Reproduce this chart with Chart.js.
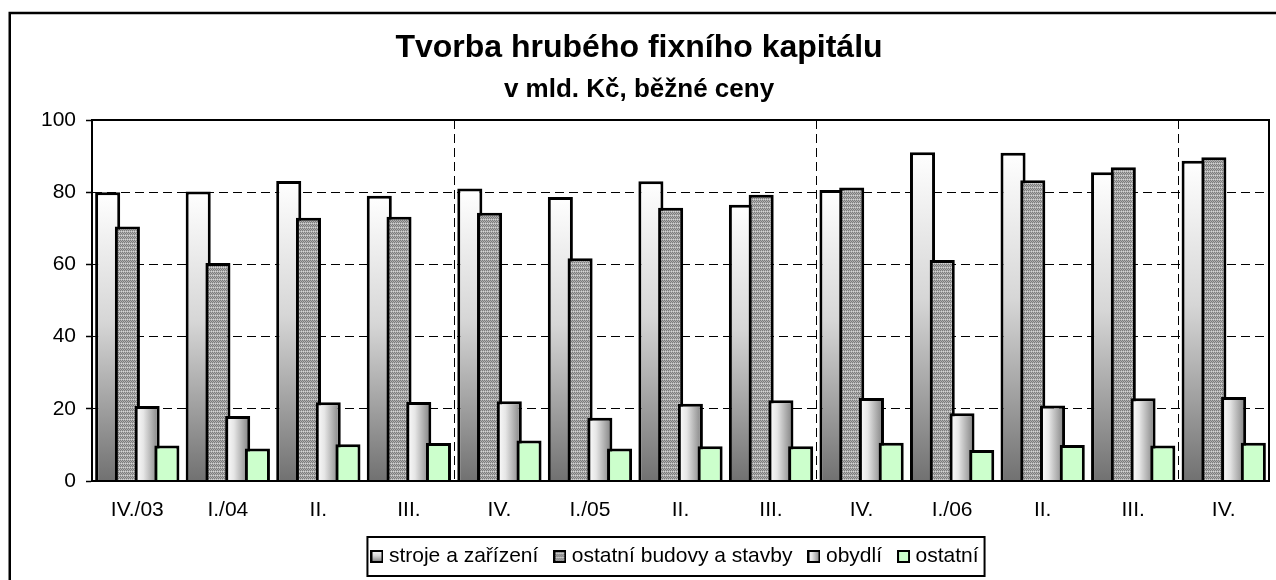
<!DOCTYPE html>
<html>
<head>
<meta charset="utf-8">
<script src="https://cdn.jsdelivr.net/npm/chart.js@4.4.0/dist/chart.umd.min.js"></script>
<style>
  html, body { margin: 0; padding: 0; background: #fff; }
  #wrap { width: 1276px; height: 580px; position: relative; }
</style>
</head>
<body>
<div id="wrap"><canvas id="c" width="1276" height="580"></canvas></div>
<script>
// ---- data ----
const categories = ['IV./03', 'I./04', 'II.', 'III.', 'IV.', 'I./05', 'II.', 'III.', 'IV.', 'I./06', 'II.', 'III.', 'IV.'];
const seriesNames = ['stroje a zařízení', 'ostatní budovy a stavby', 'obydlí', 'ostatní'];
const stroje  = [80.0, 80.2, 83.1, 79.0, 81.0, 78.7, 83.0, 76.5, 80.6, 91.1, 90.9, 85.5, 88.7];
const budovy  = [70.5, 60.4, 72.9, 73.2, 74.3, 61.7, 75.7, 79.3, 81.3, 61.2, 83.3, 86.9, 89.7];
const obydli  = [20.8, 18.0, 21.8, 21.9, 22.1, 17.5, 21.4, 22.4, 23.0, 18.8, 20.9, 22.9, 23.3];
const ostatni = [9.8, 9.0, 10.2, 10.5, 11.2, 9.0, 9.6, 9.6, 10.6, 8.6, 10.0, 9.8, 10.6];
const yTicks  = [0, 20, 40, 60, 80, 100];
const titleText = 'Tvorba hrubého fixního kapitálu';
const subtitleText = 'v mld. Kč, běžné ceny';

// ---- style ----
const FONT = '"Liberation Sans", Arial, sans-serif';
const CAT_PCT = 0.872;
const BAR_PCT = 1.27;
const PSW = 3;            // legend point-style width
const LEGEND_SHIFT = 38;  // legend sits right of centre in the original

function makeLocalPattern(g) {
  const p = document.createElement('canvas');
  p.width = 4; p.height = 4;
  const q = p.getContext('2d');
  q.fillStyle = '#b0b0b0'; q.fillRect(0, 0, 4, 4);
  q.fillStyle = '#7c7c7c';
  [[0,0],[2,0],[1,1],[3,1],[0,2],[2,2]].forEach(([x,y]) => q.fillRect(x, y, 1, 1));
  q.fillStyle = '#d4d4d4';
  [[1,3],[3,3]].forEach(([x,y]) => q.fillRect(x, y, 1, 1));
  return g.createPattern(p, 'repeat');
}

function barBox(ctx, k) {
  if (!ctx || ctx.type !== 'data') return null;
  const chart = ctx.chart, xs = chart.scales.x, ys = chart.scales.y;
  if (!xs || !ys || !chart.chartArea) return null;
  const i = ctx.dataIndex;
  const c = xs.getPixelForValue(i);
  const w = Math.abs(xs.getPixelForValue(1) - xs.getPixelForValue(0));
  if (!isFinite(c) || !isFinite(w) || w === 0) return null;
  const size = w * CAT_PCT, chunk = size / 4;
  const center = c - size / 2 + chunk * (k + 0.5);
  const bw = chunk * BAR_PCT;
  return { left: center - bw / 2, right: center + bw / 2,
           top: ys.getPixelForValue(ctx.raw), bottom: ys.getPixelForValue(0) };
}

function vGrad(g, top, bottom) {
  const gr = g.createLinearGradient(0, top, 0, bottom);
  gr.addColorStop(0, '#ffffff');
  gr.addColorStop(0.45, '#d6d6d6');
  gr.addColorStop(1, '#717171');
  return gr;
}
function hGrad(g, left, right) {
  const gr = g.createLinearGradient(left, 0, right, 0);
  gr.addColorStop(0, '#ffffff');
  gr.addColorStop(0.35, '#e6e6e6');
  gr.addColorStop(1, '#7c7c7c');
  return gr;
}

function swatch(painter) {
  const s = document.createElement('canvas');
  s.width = 13; s.height = 13;
  const g = s.getContext('2d');
  g.fillStyle = painter(g); g.fillRect(0, 0, 13, 13);
  g.strokeStyle = '#000'; g.lineWidth = 2; g.strokeRect(1, 1, 11, 11);
  return s;
}
const swatches = [
  swatch(g => vGrad(g, 0, 13)),
  swatch(g => makeLocalPattern(g)),
  swatch(g => hGrad(g, 0, 13)),
  swatch(g => '#ccffcc')
];

const framePlugin = {
  id: 'framePlugin',
  afterLayout(chart) {
    if (chart.legend) {
      chart.legend.left += LEGEND_SHIFT;
      chart.legend.right += LEGEND_SHIFT;
    }
  },
  beforeDraw(chart) {
    const c = chart.ctx;
    c.save();
    c.fillStyle = '#fff';
    c.fillRect(0, 0, chart.width, chart.height);
    c.strokeStyle = '#000';
    c.lineWidth = 2.5;
    c.beginPath();
    c.moveTo(9.75, chart.height + 10);
    c.lineTo(9.75, 13);
    c.lineTo(chart.width + 10, 13);
    c.stroke();
    c.restore();
  },
  beforeDatasetsDraw(chart) {
    // later series drawn on top of earlier ones
    chart.getSortedVisibleDatasetMetas().forEach(m => m.controller.draw());
    const a = chart.chartArea, c = chart.ctx;
    c.save();
    c.strokeStyle = '#000';
    c.lineWidth = 2;
    c.strokeRect(a.left, a.top, a.right - a.left, a.bottom - a.top);
    c.restore();
    return false;
  },
  afterDraw(chart) {
    const L = chart.legend;
    if (!L || !L.legendHitBoxes || !L.legendHitBoxes.length) return;
    const hb = L.legendHitBoxes;
    const first = hb[0], last = hb[hb.length - 1];
    const left = first.left + PSW / 2 - 6.5 - 3;
    const right = last.left + last.width + 6;
    const cy = first.top + first.height / 2;
    const c = chart.ctx;
    c.save();
    c.strokeStyle = '#000';
    c.lineWidth = 2;
    c.strokeRect(left, cy - 19.5, right - left, 39);
    c.restore();
  }
};

const datasets = [
  { label: seriesNames[0], data: stroje,
    backgroundColor: ctx => { const b = barBox(ctx, 0); return b ? vGrad(ctx.chart.ctx, b.top, b.bottom) : '#cccccc'; } },
  { label: seriesNames[1], data: budovy,
    backgroundColor: ctx => makeLocalPattern(ctx.chart.ctx) },
  { label: seriesNames[2], data: obydli,
    backgroundColor: ctx => { const b = barBox(ctx, 2); return b ? hGrad(ctx.chart.ctx, b.left, b.right) : '#cccccc'; } },
  { label: seriesNames[3], data: ostatni, backgroundColor: '#ccffcc' }
].map(d => Object.assign(d, {
  borderColor: '#000', borderWidth: 3,
  categoryPercentage: CAT_PCT, barPercentage: BAR_PCT
}));

new Chart(document.getElementById('c'), {
  type: 'bar',
  data: { labels: categories, datasets },
  plugins: [framePlugin],
  options: {
    responsive: false,
    animation: false,
    devicePixelRatio: 1,
    events: [],
    layout: { padding: { left: 9, right: 7, top: 0, bottom: 3 } },
    plugins: {
      tooltip: { enabled: false },
      title: {
        display: true, text: titleText, color: '#000',
        font: { family: FONT, size: 32, weight: 'bold', lineHeight: 1.2 },
        padding: { top: 29, bottom: 2 }
      },
      subtitle: {
        display: true, text: subtitleText, color: '#000',
        font: { family: FONT, size: 26, weight: 'bold', lineHeight: 1.2 },
        padding: { top: 5, bottom: 14.4 }
      },
      legend: {
        display: true, position: 'bottom',
        labels: {
          color: '#000',
          font: { family: FONT, size: 21 },
          usePointStyle: true,
          pointStyleWidth: PSW,
          padding: 20,
          generateLabels: chart => chart.data.datasets.map((d, i) => ({
            text: d.label, pointStyle: swatches[i], fillStyle: '#fff',
            strokeStyle: '#000', lineWidth: 0, hidden: false, datasetIndex: i, fontColor: '#000'
          }))
        }
      }
    },
    scales: {
      x: {
        offset: true,
        grid: {
          offset: true,
          color: c => (c.index % 4 === 0 && c.index > 0 && c.index < categories.length) ? '#000' : 'rgba(0,0,0,0)',
          lineWidth: 1,
          drawTicks: false
        },
        border: { display: true, color: '#000', width: 2, dash: [9, 5] },
        ticks: { color: '#000', font: { family: FONT, size: 21 }, padding: 17, maxRotation: 0, autoSkip: false },
        afterFit: s => { s.height = 45; }
      },
      y: {
        min: 0, max: 100,
        afterBuildTicks: s => { s.ticks = yTicks.map(v => ({ value: v })); },
        ticks: { color: '#000', font: { family: FONT, size: 21 }, padding: 10 },
        grid: {
          color: c => (c.tick && c.tick.value > 0 && c.tick.value < 100) ? '#000' : 'rgba(0,0,0,0)',
          lineWidth: 1,
          drawTicks: true, tickLength: 6, tickColor: '#000', tickWidth: 1.5
        },
        border: { display: true, color: '#000', width: 2, dash: [9, 5] },
        afterFit: s => { s.width = 83; }
      }
    }
  }
});
</script>
</body>
</html>
